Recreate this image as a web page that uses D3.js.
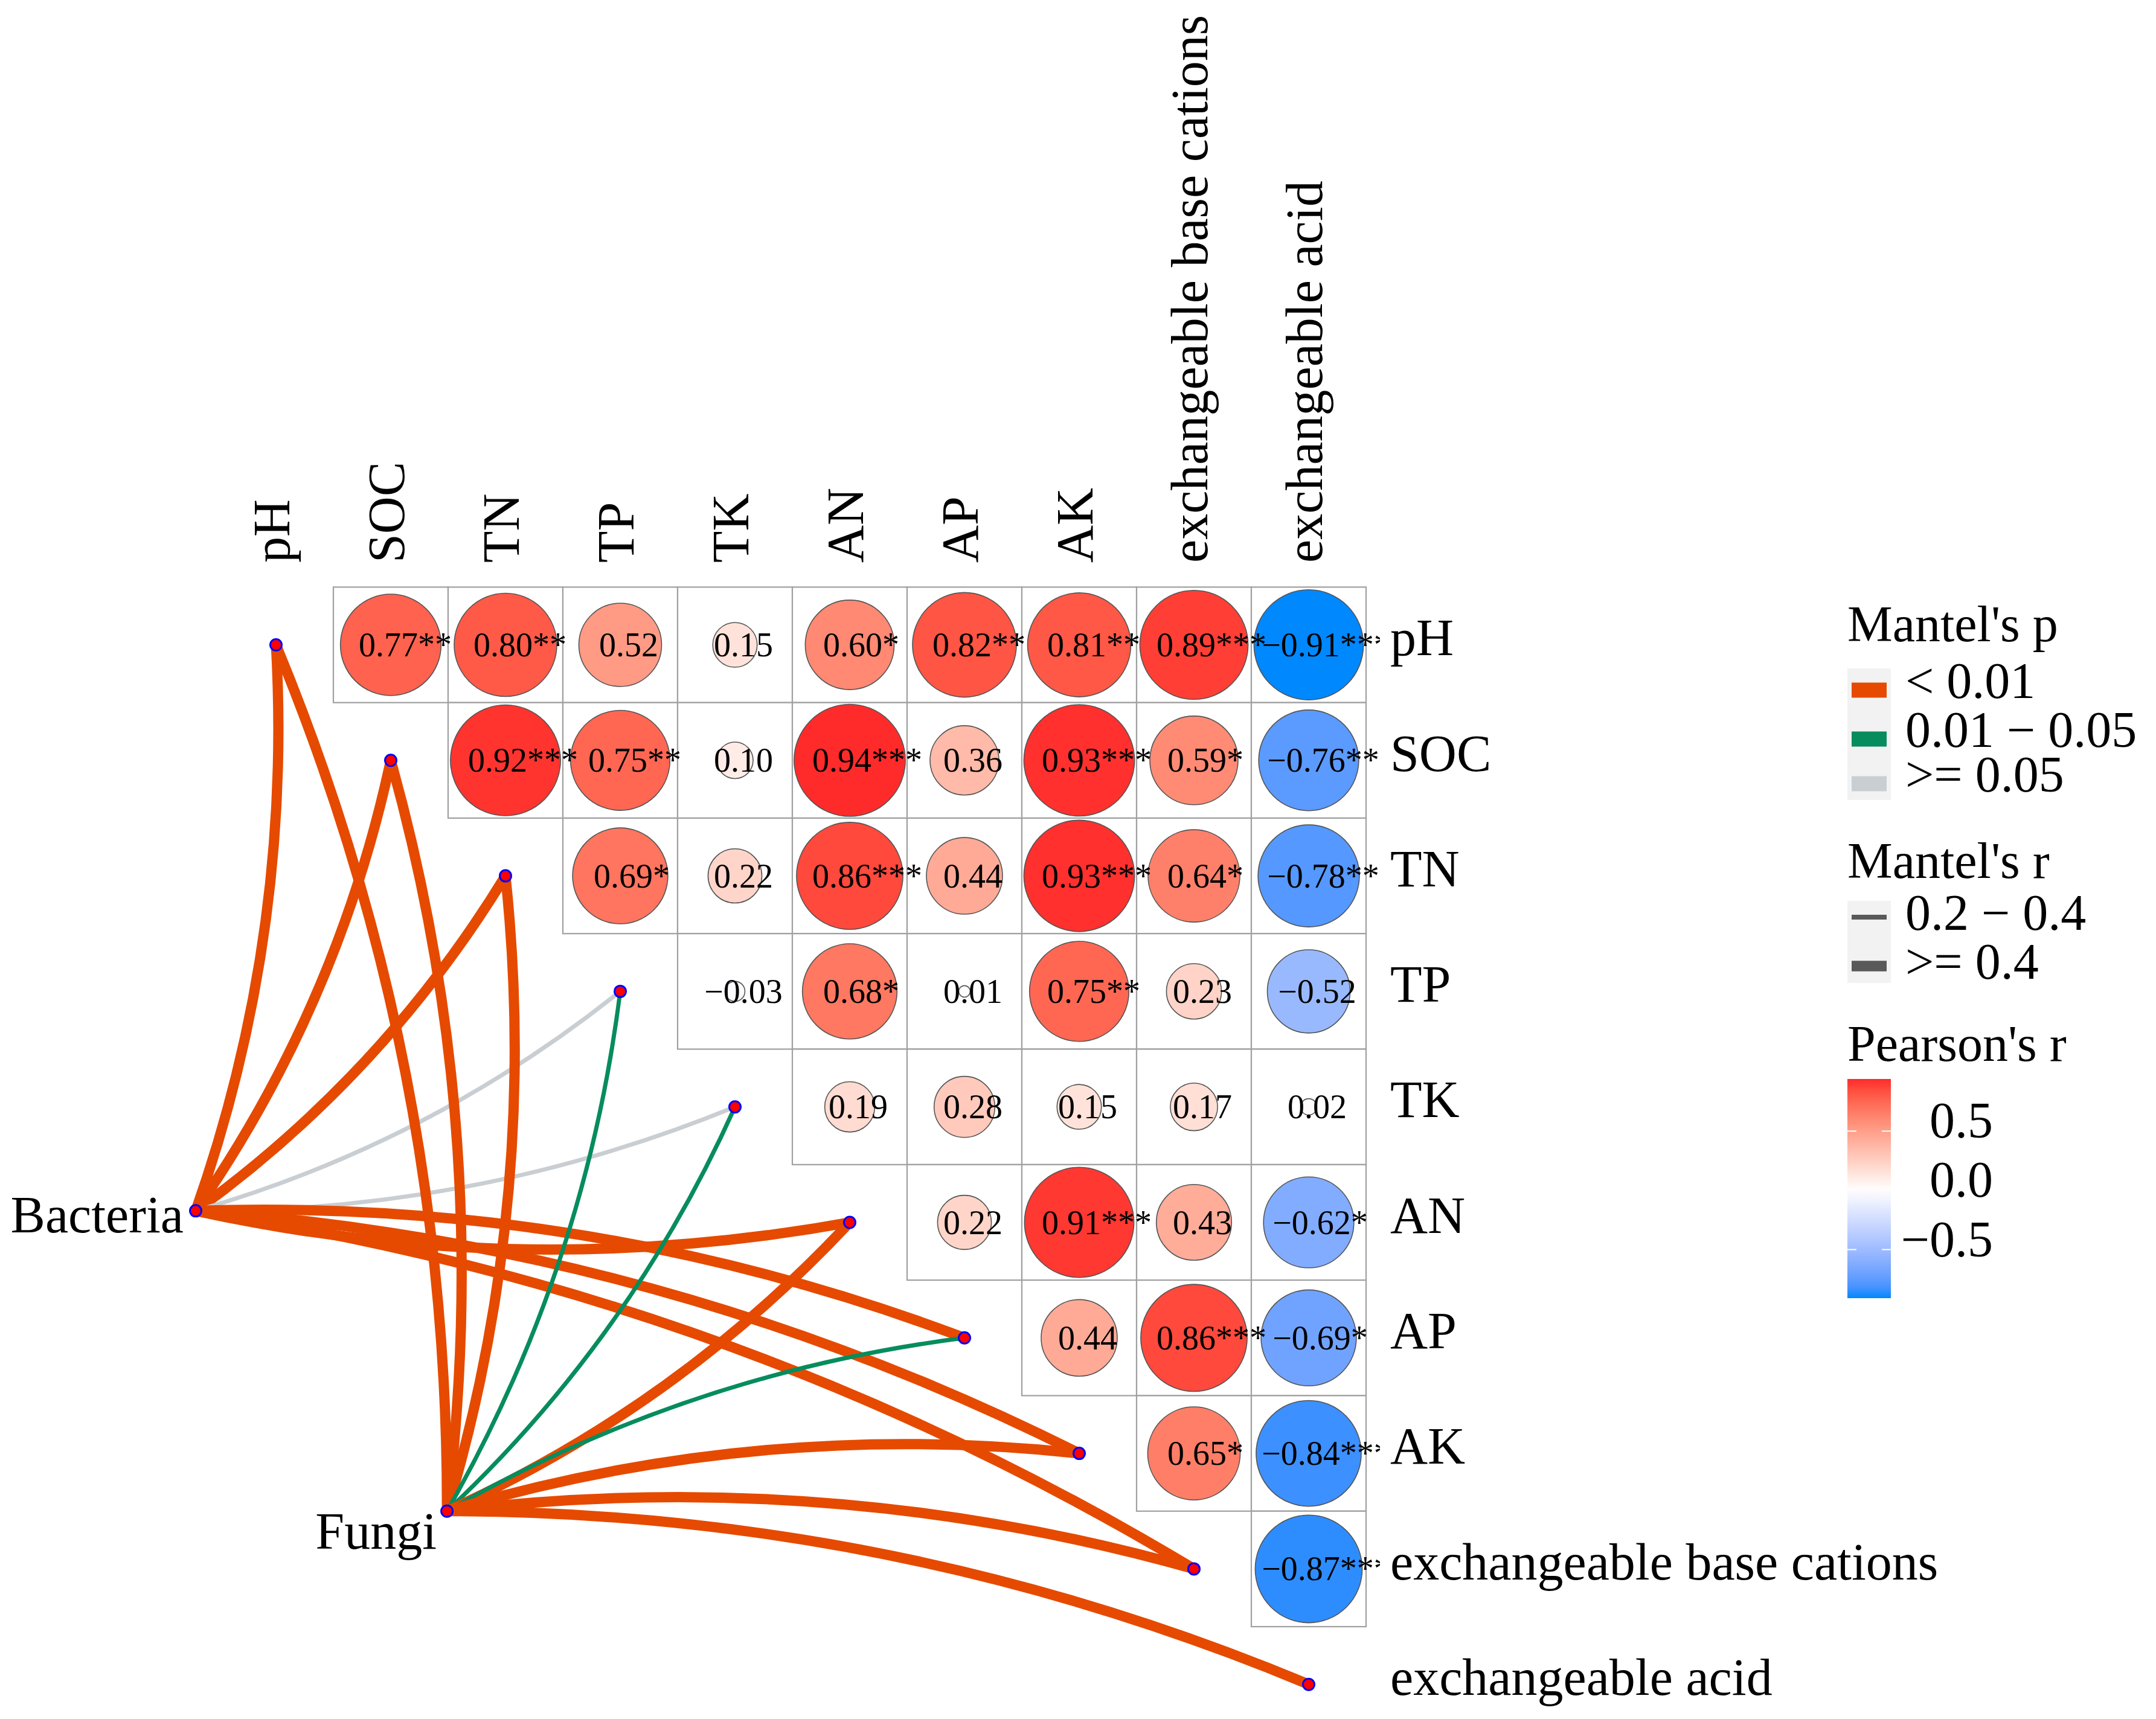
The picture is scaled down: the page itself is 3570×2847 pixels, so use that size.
<!DOCTYPE html>
<html>
<head>
<meta charset="utf-8">
<script src="https://cdn.jsdelivr.net/npm/d3@7"></script>
<style>
  body { margin: 0; background: #fff; }
  text { font-family: "Liberation Serif", "Times New Roman", serif; fill: #000; }
</style>
</head>
<body>
<div id="chart"></div>
<script>
// Environmental variables (matrix rows / columns)
const envVars = ["pH", "SOC", "TN", "TP", "TK", "AN", "AP", "AK",
  "exchangeable base cations", "exchangeable acid"];

// Pearson's r, upper triangle, row i holds columns i+1 .. 9
const corrRows = [
  [0.77, 0.80, 0.52, 0.15, 0.60, 0.82, 0.81, 0.89, -0.91],
  [0.92, 0.75, 0.10, 0.94, 0.36, 0.93, 0.59, -0.76],
  [0.69, 0.22, 0.86, 0.44, 0.93, 0.64, -0.78],
  [-0.03, 0.68, 0.01, 0.75, 0.23, -0.52],
  [0.19, 0.28, 0.15, 0.17, 0.02],
  [0.22, 0.91, 0.43, -0.62],
  [0.44, 0.86, -0.69],
  [0.65, -0.84],
  [-0.87]
];
const corrStars = [
  ["**", "**", "", "", "*", "**", "**", "***", "***"],
  ["***", "**", "", "***", "", "***", "*", "**"],
  ["*", "", "***", "", "***", "*", "**"],
  ["", "*", "", "**", "", ""],
  ["", "", "", "", ""],
  ["", "***", "", "*"],
  ["", "***", "*"],
  ["*", "***"],
  ["***"]
];

// Mantel test groups, placed in grid units (column / row index)
const specs = ["Bacteria", "Fungi"];
const specCol = [-0.70, 1.49];
const specRow = [4.90, 7.50];

// Mantel's p / r class per env variable (null = not drawn)
const bacteriaP = ["< 0.01", "< 0.01", "< 0.01", ">= 0.05", ">= 0.05", "< 0.01", "< 0.01", "< 0.01", "< 0.01", null];
const bacteriaR = [">= 0.4", ">= 0.4", ">= 0.4", "0.2 − 0.4", "0.2 − 0.4", ">= 0.4", ">= 0.4", ">= 0.4", ">= 0.4", null];
const fungiP = ["< 0.01", "< 0.01", "< 0.01", "0.01 − 0.05", "0.01 − 0.05", "< 0.01", "0.01 − 0.05", "< 0.01", "< 0.01", "< 0.01"];
const fungiR = [">= 0.4", ">= 0.4", ">= 0.4", "0.2 − 0.4", "0.2 − 0.4", ">= 0.4", "0.2 − 0.4", ">= 0.4", ">= 0.4", ">= 0.4"];

const pLevels = ["< 0.01", "0.01 − 0.05", ">= 0.05"];
const rLevels = ["0.2 − 0.4", ">= 0.4"];
const colorTicks = [0.5, 0.0, -0.5];

const W = 3570, H = 2847;
const FONT_BIG = 86, FONT_LEG = 84, FONT_CELL = 56;

const svg = d3.select("#chart").append("svg")
  .attr("width", W).attr("height", H)
  .attr("viewBox", `0 0 ${W} ${H}`);
svg.append("rect").attr("width", W).attr("height", H).attr("fill", "#fff");

// Grid scales: index -> cell centre
const cw = 190, ch = 191.3;
const gx = d3.scaleLinear().domain([0, 9]).range([457, 457 + 9 * cw]);
const gy = d3.scaleLinear().domain([0, 9]).range([1068, 1068 + 9 * ch]);

const rMin = d3.min(corrRows.flat()), rMax = d3.max(corrRows.flat());
const fill = d3.scaleLinear()
  .domain([rMin, 0, rMax])
  .range(["#0088ff", "#ffffff", "#ff2b2b"])
  .interpolate(d3.interpolateLab);

const pColor = d3.scaleOrdinal().domain(pLevels).range(["#e54a00", "#078c5d", "#c9ced3"]);
const rWidth = d3.scaleOrdinal().domain(rLevels).range([7, 17]);

// Cells
const cells = [];
corrRows.forEach((row, i) => row.forEach((r, k) => {
  cells.push({ row: i, col: i + 1 + k, r, stars: corrStars[i][k] });
}));

const cellG = svg.append("g");
cellG.selectAll("rect").data(cells).join("rect")
  .attr("x", d => gx(d.col) - cw / 2).attr("y", d => gy(d.row) - ch / 2)
  .attr("width", cw).attr("height", ch)
  .attr("fill", "#fff").attr("stroke", "#a0a0a0").attr("stroke-width", 2.2);

cellG.selectAll("ellipse").data(cells).join("ellipse")
  .attr("cx", d => gx(d.col)).attr("cy", d => gy(d.row))
  .attr("rx", d => cw / 2 * Math.sqrt(Math.abs(d.r)))
  .attr("ry", d => ch / 2 * Math.sqrt(Math.abs(d.r)))
  .attr("fill", d => fill(d.r))
  .attr("stroke", "#555").attr("stroke-width", 1.6);

// Labels clipped at the panel edge
svg.append("clipPath").attr("id", "panelClip")
  .append("rect").attr("x", 0).attr("y", 0).attr("width", 2285).attr("height", H);

const fmt = d3.format(".2f");
svg.append("g").attr("clip-path", "url(#panelClip)")
  .selectAll("text").data(cells).join("text")
  .attr("x", d => gx(d.col) + 14 + 5 * d.stars.length)
  .attr("y", d => gy(d.row))
  .attr("dy", "0.34em")
  .attr("text-anchor", "middle")
  .attr("font-size", FONT_CELL)
  .text(d => fmt(d.r) + d.stars);

// Mantel links
const links = [];
[[bacteriaP, bacteriaR], [fungiP, fungiR]].forEach(([pArr, rArr], s) => {
  envVars.forEach((env, e) => {
    if (pArr[e] == null) return;
    links.push({ spec: s, env: e, p: pArr[e], r: rArr[e] });
  });
});

const CURV = 0.1;
function linkPath(d) {
  const x1 = gx(specCol[d.spec]), y1 = gy(specRow[d.spec]);
  const x2 = gx(d.env), y2 = gy(d.env);
  const dx = x2 - x1, dy = y2 - y1, L = Math.hypot(dx, dy);
  // upper rows bend to the right of travel, lower rows to the left
  const side = d.env <= 5 ? 1 : -1;
  const k = side * CURV * L;
  const cx = (x1 + x2) / 2 - dy / L * k, cy = (y1 + y2) / 2 + dx / L * k;
  const p = d3.path();
  p.moveTo(x1, y1);
  p.quadraticCurveTo(cx, cy, x2, y2);
  return p.toString();
}

svg.append("g").selectAll("path").data(links).join("path")
  .attr("d", linkPath)
  .attr("fill", "none")
  .attr("stroke", d => pColor(d.p))
  .attr("stroke-width", d => rWidth(d.r));

// Points: env diagonal + spec nodes
const pts = envVars.map((v, i) => ({ x: gx(i), y: gy(i) }))
  .concat(specs.map((s, i) => ({ x: gx(specCol[i]), y: gy(specRow[i]) })));
svg.append("g").selectAll("circle").data(pts).join("circle")
  .attr("cx", d => d.x).attr("cy", d => d.y).attr("r", 9.5)
  .attr("fill", "#ff0000").attr("stroke", "#0000ff").attr("stroke-width", 3);

// Spec labels
const labelNudge = [[-20, 36], [-17, 62]];
svg.append("g").selectAll("text").data(specs).join("text")
  .attr("x", (d, i) => gx(specCol[i]) + labelNudge[i][0])
  .attr("y", (d, i) => gy(specRow[i]) + labelNudge[i][1])
  .attr("text-anchor", "end")
  .attr("font-size", FONT_BIG)
  .text(d => d);

// Axis labels
svg.append("g").selectAll("text").data(envVars).join("text")
  .attr("x", 2302).attr("y", (d, i) => gy(i))
  .attr("dy", "0.2em")
  .attr("font-size", FONT_BIG)
  .text(d => d);

svg.append("g").selectAll("text").data(envVars).join("text")
  .attr("transform", (d, i) => `translate(${gx(i)},932) rotate(-90)`)
  .attr("dy", "0.25em")
  .attr("font-size", FONT_BIG)
  .text(d => d);

// Legend
const lg = svg.append("g").attr("transform", "translate(3059,0)");
const keyW = 72;

lg.append("text").attr("x", 0).attr("y", 1062).attr("font-size", FONT_LEG).text("Mantel's p");
lg.append("rect").attr("x", 0).attr("y", 1107).attr("width", keyW).attr("height", 218).attr("fill", "#f2f2f2");
const pKeyY = [1143, 1224, 1298];
pLevels.forEach((lv, i) => {
  lg.append("line").attr("x1", 7).attr("x2", 65).attr("y1", pKeyY[i]).attr("y2", pKeyY[i])
    .attr("stroke", pColor(lv)).attr("stroke-width", 25);
  lg.append("text").attr("x", 96).attr("y", pKeyY[i] + 13).attr("font-size", FONT_LEG).text(lv);
});

lg.append("text").attr("x", 0).attr("y", 1454).attr("font-size", FONT_LEG).text("Mantel's r");
lg.append("rect").attr("x", 0).attr("y", 1492).attr("width", keyW).attr("height", 136).attr("fill", "#f2f2f2");
const rKeyY = [1519, 1600];
const rKeyW = [8, 17.5];
rLevels.forEach((lv, i) => {
  lg.append("line").attr("x1", 7).attr("x2", 65).attr("y1", rKeyY[i]).attr("y2", rKeyY[i])
    .attr("stroke", "#595959").attr("stroke-width", rKeyW[i]);
  lg.append("text").attr("x", 96).attr("y", rKeyY[i] + 21).attr("font-size", FONT_LEG).text(lv);
});

lg.append("text").attr("x", 0).attr("y", 1757).attr("font-size", FONT_LEG).text("Pearson's r");
const barY = d3.scaleLinear().domain([rMax, rMin]).range([1787, 2150]);
const grad = svg.append("defs").append("linearGradient").attr("id", "pearsonGrad")
  .attr("x1", 0).attr("y1", 0).attr("x2", 0).attr("y2", 1);
d3.range(0, 1.0001, 0.05).forEach(t => {
  grad.append("stop").attr("offset", t).attr("stop-color", fill(barY.invert(1787 + t * (2150 - 1787))));
});
lg.append("rect").attr("x", 0).attr("y", 1787).attr("width", keyW).attr("height", 2150 - 1787)
  .attr("fill", "url(#pearsonGrad)");
colorTicks.forEach(v => {
  const y = barY(v);
  lg.append("line").attr("x1", 0).attr("x2", 15).attr("y1", y).attr("y2", y).attr("stroke", "#fff").attr("stroke-width", 2);
  lg.append("line").attr("x1", keyW - 15).attr("x2", keyW).attr("y1", y).attr("y2", y).attr("stroke", "#fff").attr("stroke-width", 2);
  lg.append("text").attr("x", 241).attr("y", y + 11).attr("text-anchor", "end")
    .attr("font-size", FONT_LEG).text(d3.format(".1f")(v));
});
</script>
</body>
</html>
